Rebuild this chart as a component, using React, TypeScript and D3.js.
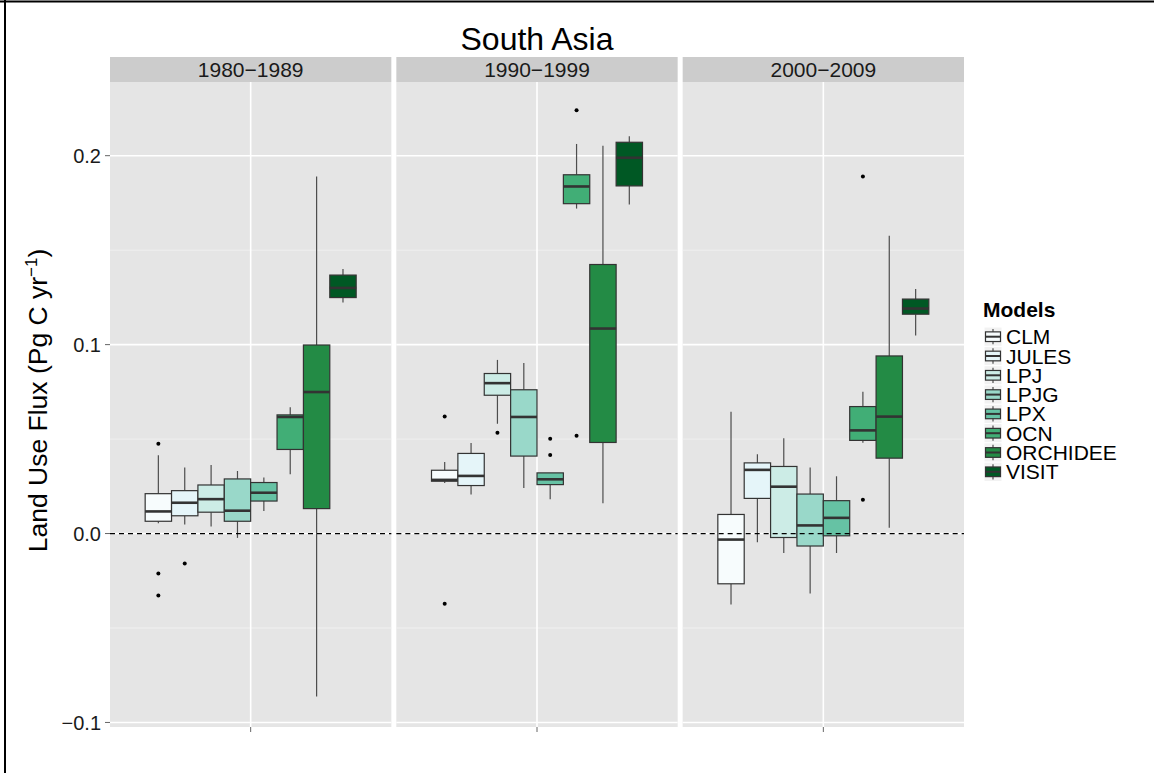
import React from 'react';
import * as d3 from 'd3';

const models = ['CLM', 'JULES', 'LPJ', 'LPJG', 'LPX', 'OCN', 'ORCHIDEE', 'VISIT'];
const modelColors = ['#f7fcfd', '#e5f5f9', '#ccece6', '#99d8c9', '#66c2a4', '#41ae76', '#238b45', '#005824'];
const periods = ['1980−1989', '1990−1999', '2000−2009'];

// per model: [lower whisker, q1, median, q3, upper whisker]
const stats8089 = [
  [0.0055, 0.0065, 0.0117, 0.0211, 0.0415],
  [0.0048, 0.0094, 0.0163, 0.0227, 0.0349],
  [0.0037, 0.0113, 0.0182, 0.0257, 0.0363],
  [-0.0023, 0.0065, 0.0121, 0.0289, 0.0331],
  [0.0119, 0.0172, 0.0216, 0.027, 0.0296],
  [0.0314, 0.0445, 0.0617, 0.0628, 0.0669],
  [-0.0862, 0.0132, 0.0749, 0.0998, 0.189],
  [0.1223, 0.1249, 0.13, 0.1368, 0.14],
];
const stats9099 = [
  [0.0268, 0.0277, 0.0284, 0.0335, 0.0378],
  [0.0207, 0.0254, 0.0305, 0.0424, 0.0479],
  [0.0581, 0.0732, 0.0796, 0.0847, 0.0919],
  [0.0241, 0.041, 0.0617, 0.0761, 0.0903],
  [0.0181, 0.0259, 0.0287, 0.0321, 0.0321],
  [0.172, 0.1746, 0.1837, 0.1899, 0.2062],
  [0.016, 0.0482, 0.1085, 0.1424, 0.2053],
  [0.1741, 0.184, 0.1989, 0.2071, 0.2103],
];
const stats0009 = [
  [-0.0376, -0.0266, -0.0032, 0.0101, 0.0645],
  [-0.0046, 0.0186, 0.0337, 0.0374, 0.042],
  [-0.0103, -0.0021, 0.0248, 0.0355, 0.0504],
  [-0.0318, -0.0066, 0.0043, 0.0209, 0.0349],
  [-0.0103, -0.0012, 0.0083, 0.0174, 0.0303],
  [0.048, 0.0493, 0.0546, 0.0672, 0.075],
  [0.003, 0.0399, 0.0619, 0.094, 0.1576],
  [0.1048, 0.1161, 0.1191, 0.1241, 0.1294],
];
const outliers8089 = [[0.0475, -0.0211, -0.0328], [-0.0158], [], [], [], [], [], []];
const outliers9099 = [[0.0619, -0.0371], [], [0.0534], [], [0.0502, 0.0416], [0.2241, 0.0518], [], []];
const outliers0009 = [[], [], [], [], [], [0.189, 0.0179], [], []];

const yTicks = [-0.1, 0, 0.1, 0.2];
const yMinor = [-0.05, 0.05, 0.15];

const panelStats = [stats8089, stats9099, stats0009];
const panelOutliers = [outliers8089, outliers9099, outliers0009];

const font = 'Liberation Sans, Arial, Helvetica, sans-serif';

export default function App() {
  const width = 1154;
  const height = 773;
  const top = 82, bottom = 727, left = 110, right = 964, gap = 5;
  const pw = (right - left - 2 * gap) / 3;

  const y = d3.scaleLinear().domain([-0.1024, 0.239]).range([bottom, top]);
  const xc = d3.scaleLinear().domain([0.4, 1.6]).range([0, pw]);
  const dodge = d3.scaleBand().domain(models).range([xc(0.55), xc(1.45)]);
  const fmt = d3.format('.1f');

  const keyY0 = 336.7, keyStep = 19.3;

  return (
    <div style={{ position: 'absolute', left: 0, top: 0 }}>
      <svg width={width} height={height} style={{ display: 'block', fontFamily: font }}>
        <rect width={width} height={height} fill="#fff" />
        <line x1={0} x2={width} y1={1.5} y2={1.5} stroke="#000" strokeWidth={2} />
        <line x1={5} x2={5} y1={0} y2={height} stroke="#000" strokeWidth={2} />

        <text x={(left + right) / 2} y={50} textAnchor="middle" fontSize={32} fill="#000">South Asia</text>

        {periods.map((p, pi) => {
          const x0 = left + pi * (pw + gap);
          const stats = panelStats[pi];
          const outs = panelOutliers[pi];
          return (
            <g key={p} transform={`translate(${x0},0)`}>
              <rect x={0} y={57} width={pw} height={25} fill="#cccccc" />
              <text x={pw / 2} y={77} textAnchor="middle" fontSize={21} fill="#1a1a1a">{p}</text>
              <rect x={0} y={top} width={pw} height={bottom - top} fill="#e5e5e5" />
              {yMinor.map(t => (
                <line key={t} x1={0} x2={pw} y1={y(t)} y2={y(t)} stroke="#f2f2f2" strokeWidth={0.9} />
              ))}
              {yTicks.map(t => (
                <line key={t} x1={0} x2={pw} y1={y(t)} y2={y(t)} stroke="#fff" strokeWidth={1.6} />
              ))}
              <line x1={xc(1)} x2={xc(1)} y1={top} y2={bottom} stroke="#fff" strokeWidth={1.6} />
              {models.map((m, mi) => {
                const [lw, q1, med, q3, uw] = stats[mi];
                const bx = dodge(m) as number;
                const bw = dodge.bandwidth();
                const cx = bx + bw / 2;
                return (
                  <g key={m}>
                    <line x1={cx} x2={cx} y1={y(uw)} y2={y(q3)} stroke="#4d4d4d" strokeWidth={1.2} />
                    <line x1={cx} x2={cx} y1={y(q1)} y2={y(lw)} stroke="#4d4d4d" strokeWidth={1.2} />
                    <rect x={bx} y={y(q3)} width={bw} height={y(q1) - y(q3)} fill={modelColors[mi]} stroke="#333" strokeWidth={1.2} />
                    <line x1={bx} x2={bx + bw} y1={y(med)} y2={y(med)} stroke="#333" strokeWidth={2.6} />
                    {outs[mi].map((o, oi) => (
                      <circle key={oi} cx={cx} cy={y(o)} r={2} fill="#000" />
                    ))}
                  </g>
                );
              })}
              <line x1={0} x2={pw} y1={y(0)} y2={y(0)} stroke="#000" strokeWidth={1.3} strokeDasharray="5,4" />
              <line x1={xc(1)} x2={xc(1)} y1={bottom} y2={bottom + 5} stroke="#666" strokeWidth={1} />
            </g>
          );
        })}

        {yTicks.map(t => (
          <g key={t}>
            <line x1={left - 5} x2={left} y1={y(t)} y2={y(t)} stroke="#666" strokeWidth={1} />
            <text x={left - 9} y={y(t)} dy="0.36em" textAnchor="end" fontSize={20} fill="#1a1a1a">{fmt(t)}</text>
          </g>
        ))}

        <text transform={`translate(47,${(top + bottom) / 2 - 4}) rotate(-90)`} textAnchor="middle" fontSize={26.5} fill="#000">
          Land Use Flux (Pg C yr<tspan dy={-10} fontSize={17}>−1</tspan><tspan dy={10}>)</tspan>
        </text>

        <text x={983} y={316.7} fontSize={21} fontWeight="bold" fill="#000">Models</text>
        {models.map((m, mi) => {
          const cy = keyY0 + mi * keyStep;
          const kx = 984, kw = 18, kh = keyStep;
          const bx = kx + 1.5, bw = kw - 3;
          return (
            <g key={m}>
              <rect x={kx} y={cy - kh / 2} width={kw} height={kh} fill="#f2f2f2" stroke="#fff" strokeWidth={1} />
              <line x1={kx + kw / 2} x2={kx + kw / 2} y1={cy - kh / 2 + 2} y2={cy + kh / 2 - 2} stroke="#4d4d4d" strokeWidth={1.2} />
              <rect x={bx} y={cy - kh / 4} width={bw} height={kh / 2} fill={modelColors[mi]} stroke="#333" strokeWidth={1.2} />
              <line x1={bx} x2={bx + bw} y1={cy} y2={cy} stroke="#333" strokeWidth={2} />
              <text x={1006} y={cy + 7.5} fontSize={21} fill="#000">{m}</text>
            </g>
          );
        })}
      </svg>
    </div>
  );
}
